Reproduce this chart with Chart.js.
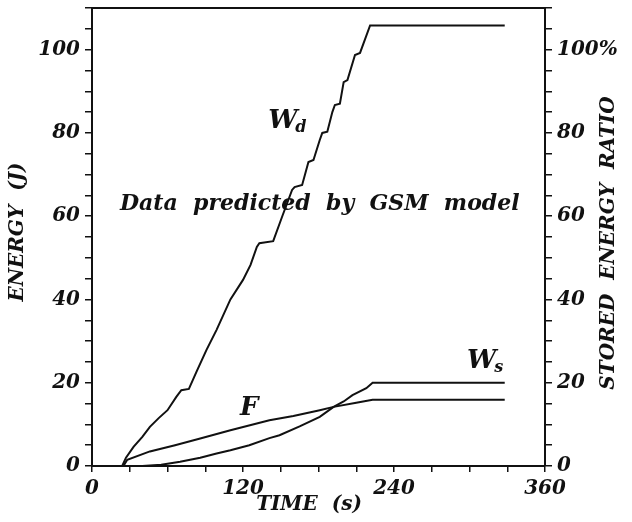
<!DOCTYPE html>
<html>
<head>
<meta charset="utf-8">
<script src="https://cdn.jsdelivr.net/npm/chart.js@4.4.1/dist/chart.umd.min.js"></script>
<style>
  html, body { margin: 0; padding: 0; background: #fff; }
  #wrap { width: 632px; height: 522px; }
</style>
</head>
<body>
<div id="wrap"><canvas id="chart" width="632" height="522"></canvas></div>
<script>
// Données (temps en s, énergie en J)
const wdTime   = [0, 24, 27, 33, 40, 46, 53, 60, 67, 71, 77, 83, 91, 99, 110, 120, 126, 131, 133, 144, 151, 159, 161, 167, 172, 176, 181, 183, 187, 191, 193, 197, 200, 203, 209, 213, 221, 328];
const wdEnergy = [0, 0, 2, 4.6, 7, 9.4, 11.5, 13.4, 16.6, 18.2, 18.5, 22.6, 27.9, 32.7, 40, 44.7, 48.3, 52.6, 53.5, 54, 59.8, 66.3, 67, 67.5, 73, 73.5, 78.3, 80, 80.3, 85, 86.7, 87, 92.2, 92.7, 98.7, 99.2, 105.8, 105.8];

const fTime    = [0, 25, 28, 46, 66, 86, 110, 141, 160, 181, 192, 210, 223, 328];
const fEnergy  = [0, 0, 1.5, 3.5, 5, 6.6, 8.6, 11, 12, 13.4, 14.2, 15.2, 15.9, 15.9];

const wsTime   = [0, 40, 55, 70, 86, 99, 110, 125, 141, 149, 165, 181, 192, 200, 207, 218, 223, 328];
const wsEnergy = [0, 0, 0.3, 1, 2, 3, 3.8, 5, 6.7, 7.4, 9.5, 11.8, 14.2, 15.5, 17, 18.7, 20, 20];

const xMax = 360, xStep = 30, xLabelEvery = 120;
const yMax = 110, yStep = 5, yLabelEvery = 20;

const FONT = '"DejaVu Serif", serif';
const INK = '#111';

function toPoints(ts, vs) { return ts.map((t, i) => ({ x: t, y: vs[i] })); }

function curve(label, ts, vs) {
  return {
    label: label,
    data: toPoints(ts, vs),
    borderColor: INK,
    borderWidth: 2,
    pointRadius: 0,
    tension: 0,
    fill: false
  };
}

// pas de marge automatique pour les étiquettes extrêmes
function noPad(scale) {
  scale.paddingTop = 0;
  scale.paddingBottom = 0;
}

// Textes dessinés à la main (titres d'axes, étiquettes des courbes)
const annotations = {
  id: 'annotations',
  afterDraw(chart) {
    const ctx = chart.ctx;
    const a = chart.chartArea;
    const sx = chart.scales.x, sy = chart.scales.y;
    ctx.save();
    ctx.strokeStyle = INK;
    ctx.lineWidth = 2;
    ctx.beginPath();
    ctx.moveTo(a.left, a.top);
    ctx.lineTo(a.right, a.top);
    ctx.stroke();

    ctx.fillStyle = INK;
    ctx.textBaseline = 'middle';
    ctx.textAlign = 'center';
    ctx.font = 'italic bold 20px ' + FONT;

    // titres des axes
    ctx.fillText('TIME  (s)', 309, 505);
    ctx.save();
    ctx.translate(18, 232);
    ctx.rotate(-Math.PI / 2);
    ctx.fillText('ENERGY  (J)', 0, 0);
    ctx.restore();
    ctx.save();
    ctx.translate(609, 243);
    ctx.rotate(-Math.PI / 2);
    ctx.fillText('STORED  ENERGY  RATIO', 0, 0);
    ctx.restore();

    // note centrale
    ctx.textBaseline = 'alphabetic';
    ctx.font = 'italic bold 22px ' + FONT;
    ctx.fillText('Data  predicted  by  GSM  model', sx.getPixelForValue(181), sy.getPixelForValue(61.5));

    // étiquettes des courbes
    ctx.textAlign = 'left';
    function label(main, sub, t, v) {
      const x = sx.getPixelForValue(t), y = sy.getPixelForValue(v);
      ctx.font = 'italic bold 26px ' + FONT;
      ctx.fillText(main, x, y);
      if (sub) {
        const w = ctx.measureText(main).width;
        ctx.font = 'italic bold 16px ' + FONT;
        ctx.fillText(sub, x + w - 2, y + 4);
      }
    }
    label('W', 'd', 140, 81.2);
    label('F', '', 117.6, 12.2);
    label('W', 's', 298, 23.5);
    ctx.restore();
  }
};

const tickFont = { family: FONT, size: 20, style: 'italic', weight: 'bold' };

new Chart(document.getElementById('chart'), {
  type: 'line',
  data: {
    datasets: [
      curve('Wd', wdTime, wdEnergy),
      curve('F', fTime, fEnergy),
      curve('Ws', wsTime, wsEnergy)
    ]
  },
  options: {
    responsive: false,
    animation: false,
    layout: { padding: { top: 8, left: 0, right: 0, bottom: 0 } },
    plugins: { legend: { display: false }, tooltip: { enabled: false } },
    scales: {
      x: {
        type: 'linear',
        min: 0, max: xMax,
        border: { display: true, color: INK, width: 2 },
        grid: { drawOnChartArea: false, drawTicks: true, tickLength: 6, color: INK, lineWidth: 1.5 },
        ticks: {
          stepSize: xStep, autoSkip: false, maxRotation: 0, color: INK, font: tickFont, padding: 5,
          callback: v => (v % xLabelEvery === 0 ? String(v) : '')
        },
        afterFit(scale) { scale.height = 56; }
      },
      y: {
        type: 'linear', position: 'left',
        min: 0, max: yMax,
        border: { display: true, color: INK, width: 2 },
        grid: { drawOnChartArea: false, drawTicks: true, tickLength: 7, color: INK, lineWidth: 1.5 },
        ticks: {
          stepSize: yStep, autoSkip: false, color: INK, font: tickFont, padding: 5,
          callback: v => (v % yLabelEvery === 0 ? String(v) : '')
        },
        afterFit(scale) { scale.width = 92; noPad(scale); }
      },
      y2: {
        type: 'linear', position: 'right',
        min: 0, max: yMax,
        border: { display: true, color: INK, width: 2 },
        grid: { drawOnChartArea: false, drawTicks: true, tickLength: 7, color: INK, lineWidth: 1.5 },
        ticks: {
          stepSize: yStep, autoSkip: false, color: INK, font: tickFont, padding: 5,
          callback: v => (v % yLabelEvery === 0 ? (v === 100 ? '100%' : String(v)) : '')
        },
        afterFit(scale) { scale.width = 87; noPad(scale); }
      }
    }
  },
  plugins: [annotations]
});
</script>
</body>
</html>
